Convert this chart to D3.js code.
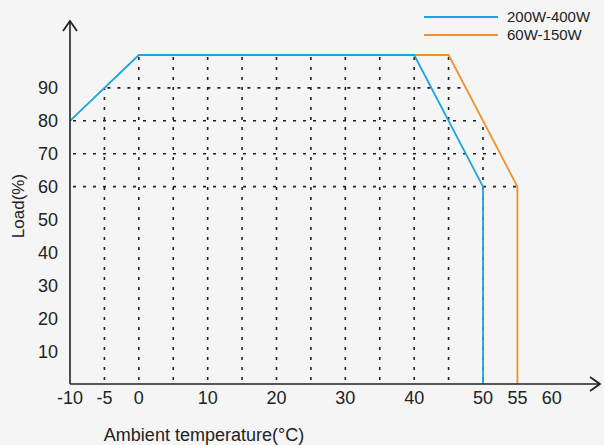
<!DOCTYPE html>
<html>
<head>
<script src="https://d3js.org/d3.v7.min.js"></script>
<style>
  body { margin: 0; background: #f5f5f5; }
  text { font-family: "Liberation Sans", Arial, sans-serif; fill: #222; }
</style>
</head>
<body>
<svg width="604" height="445"></svg>
<script>
// derating curves: [ambient temp, load %]
const series200_400 = [[-10, 80], [0, 100], [40, 100], [50, 60], [50, 0]];
const series60_150 = [[40, 100], [45, 100], [55, 60], [55, 0]];
const seriesNames = ['200W-400W', '60W-150W'];
const seriesColors = ['#1ba6e2', '#f0922c'];

const xTicks = [-10, -5, 0, 10, 20, 30, 40, 50, 55, 60];
const yTicks = [10, 20, 30, 40, 50, 60, 70, 80, 90];
const xGrid = [-5, 0, 5, 10, 15, 20, 25, 30, 35, 40, 45, 50];
const yGrid = [60, 70, 80, 90];

const svg = d3.select('svg');

const x = d3.scaleLinear().domain([-10, 50]).range([70, 483]);
const y = d3.scaleLinear().domain([0, 100]).range([384, 55]);

// curve lookups so the grid stops at the curves
const blueAt = d3.scaleLinear().domain([-10, 0]).range([80, 100]);   // rising edge
const orangeX = d3.scaleLinear().domain([100, 60]).range([45, 55]);  // falling edge
const topAt = t => t < 0 ? blueAt(t) : (t <= 45 ? 100 : orangeX.invert(t));
const leftAt = v => v >= 80 ? blueAt.invert(v) : -10;

// dotted grid
const grid = svg.append('g')
  .attr('stroke', '#222')
  .attr('stroke-width', 1.6)
  .attr('stroke-dasharray', '3,7');

grid.selectAll('line.v')
  .data(xGrid)
  .join('line')
  .attr('class', 'v')
  .attr('x1', d => x(d)).attr('x2', d => x(d))
  .attr('y1', y(0) - 4).attr('y2', d => y(topAt(d)));

grid.selectAll('line.h')
  .data(yGrid)
  .join('line')
  .attr('class', 'h')
  .attr('x1', d => x(leftAt(d)) + 3).attr('x2', d => x(orangeX(d)))
  .attr('y1', d => y(d)).attr('y2', d => y(d));

// curves
const line = d3.line().x(d => x(d[0])).y(d => y(d[1]));
svg.append('path')
  .datum(series60_150)
  .attr('d', line)
  .attr('fill', 'none')
  .attr('stroke', seriesColors[1])
  .attr('stroke-width', 1.8);
svg.append('path')
  .datum(series200_400)
  .attr('d', line)
  .attr('fill', 'none')
  .attr('stroke', seriesColors[0])
  .attr('stroke-width', 1.8);

// axes with arrows
const axisColor = '#222';
svg.append('line')
  .attr('x1', x(-10)).attr('x2', x(-10))
  .attr('y1', y(0)).attr('y2', 21)
  .attr('stroke', axisColor).attr('stroke-width', 1.6);
svg.append('path')
  .attr('d', `M${x(-10) - 7},${31} L${x(-10)},${21} L${x(-10) + 7},${31}`)
  .attr('fill', 'none').attr('stroke', axisColor).attr('stroke-width', 1.8);

svg.append('line')
  .attr('x1', x(-10)).attr('x2', 600)
  .attr('y1', y(0)).attr('y2', y(0))
  .attr('stroke', axisColor).attr('stroke-width', 1.6);
svg.append('path')
  .attr('d', `M${590},${y(0) - 7} L${600},${y(0)} L${590},${y(0) + 7}`)
  .attr('fill', 'none').attr('stroke', axisColor).attr('stroke-width', 1.8);

// tick labels
svg.selectAll('text.yt')
  .data(yTicks)
  .join('text')
  .attr('class', 'yt')
  .attr('x', 58)
  .attr('y', d => y(d))
  .attr('dy', '0.36em')
  .attr('text-anchor', 'end')
  .attr('font-size', 18)
  .text(d => d);

svg.selectAll('text.xt')
  .data(xTicks)
  .join('text')
  .attr('class', 'xt')
  .attr('x', d => x(d))
  .attr('y', 404)
  .attr('text-anchor', 'middle')
  .attr('font-size', 18)
  .text(d => d);

// axis titles
svg.append('text')
  .attr('x', 204)
  .attr('y', 441)
  .attr('text-anchor', 'middle')
  .attr('font-size', 18)
  .text('Ambient temperature(°C)');

svg.append('text')
  .attr('transform', 'translate(24,206) rotate(-90)')
  .attr('text-anchor', 'middle')
  .attr('font-size', 17)
  .text('Load(%)');

// legend
const legend = svg.selectAll('g.leg')
  .data(seriesNames)
  .join('g')
  .attr('class', 'leg')
  .attr('transform', (d, i) => `translate(424, ${17 + i * 18})`);
legend.append('line')
  .attr('x1', 0).attr('x2', 74)
  .attr('stroke', (d, i) => seriesColors[i])
  .attr('stroke-width', 1.8);
legend.append('text')
  .attr('x', 83)
  .attr('dy', '0.36em')
  .attr('font-size', 15)
  .text(d => d);
</script>
</body>
</html>
